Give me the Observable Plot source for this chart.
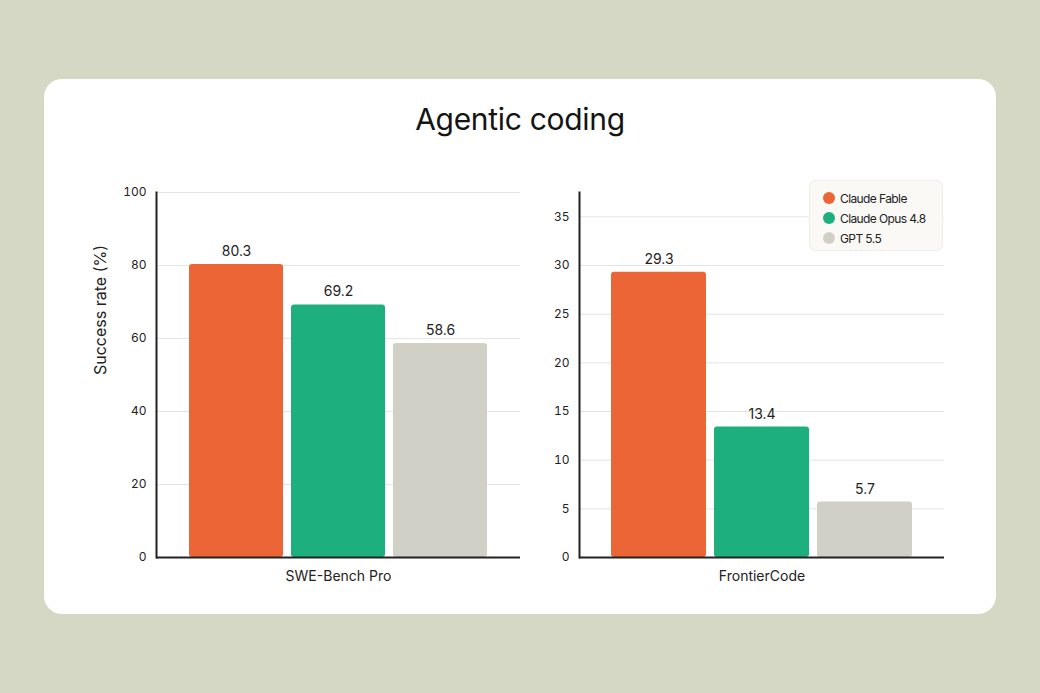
<!DOCTYPE html>
<html><head><meta charset="utf-8">
<script src="https://cdn.jsdelivr.net/npm/d3@7"></script>
<script src="https://cdn.jsdelivr.net/npm/@observablehq/plot@0.6"></script>
<style>
body{margin:0;width:1040px;height:693px;background:#d4d8c5;position:relative;overflow:hidden;font-family:Inter,"Noto Sans",sans-serif;}
#card{position:absolute;left:44px;top:79px;width:952px;height:535px;background:#fff;border-radius:18px;}
#title{position:absolute;left:0;width:1040px;top:101px;text-align:center;font-size:30px;font-weight:400;color:#141413;letter-spacing:-0.3px;}
#left{position:absolute;left:60px;top:170px;}
#right{position:absolute;left:525px;top:170px;}
#legend{position:absolute;left:809px;top:180px;width:134px;height:71px;box-sizing:border-box;background:#faf9f6;border:1px solid #eeede8;border-radius:6px;padding:7px 0 0 13px;font-size:12px;letter-spacing:-0.6px;color:#222;}
.li{display:flex;align-items:center;height:20px;}
.dot{width:12px;height:12px;border-radius:50%;margin-right:5px;}
</style></head>
<body>
<div id="card"></div>
<div id="title">Agentic coding</div>
<div id="left"></div>
<div id="right"></div>
<div id="legend"></div>
<script>
const models = ["Claude Fable", "Claude Opus 4.8", "GPT 5.5"];
const colors = ["#eb6537", "#1daf7d", "#d1d0c7"];
const benchmarks = ["SWE-Bench Pro", "FrontierCode"];
const sweValues = [80.3, 69.2, 58.6];
const frontierValues = [29.3, 13.4, 5.7];
const leftTicks = [0, 20, 40, 60, 80, 100];
const rightTicks = [0, 5, 10, 15, 20, 25, 30, 35];
const yLabel = "Success rate (%)";

function panel(values, bench, domain, ticks, w, ml, mr, withLabel) {
  const data = models.map((m, i) => ({model: m, value: values[i]}));
  const marks = [
    Plot.gridY(ticks, {stroke: "#e4e4e4", strokeOpacity: 1, strokeWidth: 1}),
    Plot.barY(data, {x: "model", y: "value", fill: "model", rx: 3}),
    Plot.axisY(ticks, {tickSize: 0, tickPadding: 10, label: null, fontSize: 12, fill: "#222"}),
    Plot.ruleY([0], {stroke: "#222", strokeWidth: 2}),
    Plot.frame({anchor: "left", stroke: "#222", strokeWidth: 2}),
    Plot.text(data, {x: "model", y: "value", text: d => d.value.toFixed(1), dy: -13, fontSize: 14, fill: "#222"}),
    Plot.text([bench], {frameAnchor: "bottom", dy: 23, fontSize: 14, fill: "#222"})
  ];
  if (withLabel) marks.push(Plot.text([yLabel], {frameAnchor: "left", rotate: -90, dx: -56, fontSize: 16, fill: "#222"}));
  return Plot.plot({
    width: w, height: 430, marginLeft: ml, marginRight: mr, marginTop: 22, marginBottom: 43,
    style: {fontFamily: "Inter, 'Noto Sans', sans-serif", fontSize: "12px", color: "#222", background: "transparent", overflow: "visible"},
    x: {domain: models, paddingInner: 0.08, paddingOuter: 0.31, axis: null},
    y: {domain, label: null, axis: null},
    color: {domain: models, range: colors},
    marks
  });
}

document.getElementById("left").append(panel(sweValues, benchmarks[0], [0, 100], leftTicks, 465, 96, 5, true));
document.getElementById("right").append(panel(frontierValues, benchmarks[1], [0, 37.5], rightTicks, 435, 54, 16, false));

const leg = document.getElementById("legend");
models.forEach((m, i) => {
  const row = document.createElement("div");
  row.className = "li";
  const dot = document.createElement("span");
  dot.className = "dot";
  dot.style.background = colors[i];
  const t = document.createElement("span");
  t.textContent = m;
  row.append(dot, t);
  leg.append(row);
});
</script>
</body></html>
